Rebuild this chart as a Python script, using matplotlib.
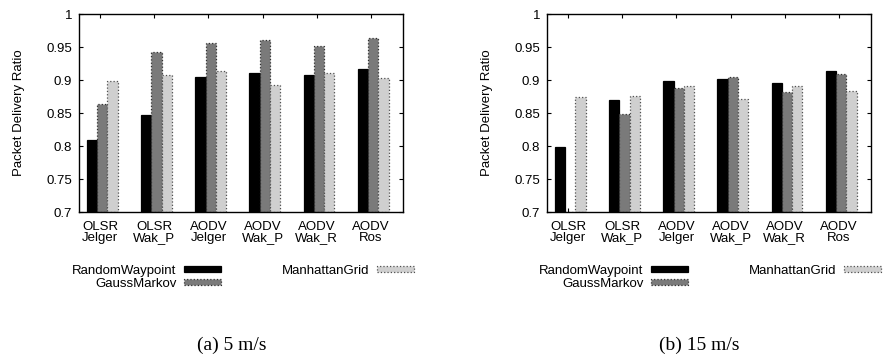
import numpy as np
import matplotlib
matplotlib.use('Agg')
import matplotlib.pyplot as plt

plt.rcParams['font.family'] = ['Liberation Sans', 'DejaVu Sans']

protocols = ['OLSR\nJelger', 'OLSR\nWak_P', 'AODV\nJelger', 'AODV\nWak_P', 'AODV\nWak_R', 'AODV\nRos']
series = ['RandomWaypoint', 'GaussMarkov', 'ManhattanGrid']

# 5 m/s
rw_5 = [0.809, 0.847, 0.905, 0.911, 0.907, 0.916]
gm_5 = [0.863, 0.942, 0.956, 0.961, 0.951, 0.963]
mg_5 = [0.899, 0.907, 0.913, 0.893, 0.910, 0.903]
# 15 m/s (GaussMarkov on OLSR Jelger falls below the axis)
rw_15 = [0.798, 0.870, 0.899, 0.901, 0.896, 0.914]
gm_15 = [0.680, 0.849, 0.888, 0.904, 0.882, 0.909]
mg_15 = [0.874, 0.876, 0.891, 0.871, 0.891, 0.883]

yticks = [0.7, 0.75, 0.8, 0.85, 0.9, 0.95, 1.0]
captions = ['(a) 5 m/s', '(b) 15 m/s']

colors = ['black', '#7a7a7a', '#cfcfcf']
edges = ['black', '#303030', '#505050']
styles = ['-', ':', ':']

fig = plt.figure(figsize=(8.85, 3.6), dpi=100)
W, H = 885, 360
# axes left edge, data, legend left edge, caption centre (pixels)
panels = [(79, rw_5, gm_5, mg_5, 72, 232), (547, rw_15, gm_15, mg_15, 539, 699)]

x = np.arange(len(protocols))
w = 0.19
for i, (left, rw, gm, mg, leg_x, cap_x) in enumerate(panels):
    ax = fig.add_axes([left / W, (360 - 212) / H, 324 / W, 198 / H])
    bars = []
    for k, vals in enumerate([rw, gm, mg]):
        b = ax.bar(x + (k - 1) * w + 0.04, np.array(vals) - 0.7, width=w, bottom=0.7,
                   color=colors[k], edgecolor=edges[k], linestyle=styles[k],
                   linewidth=0.9, label=series[k])
        bars.append(b)
    ax.set_xlim(-0.39, 5.59)
    ax.set_ylim(0.7, 1.0)
    ax.set_xticks(x)
    ax.set_xticklabels(protocols, fontsize=9.5, linespacing=0.9)
    ax.set_yticks(yticks)
    ax.set_yticklabels(['%g' % v for v in yticks], fontsize=9.5)
    ax.tick_params(direction='in', length=3, width=0.8, top=True, right=True)
    ax.tick_params(axis='x', pad=6.5)
    ax.tick_params(axis='y', pad=5)
    ax.set_axisbelow(True)
    for s in ax.spines.values():
        s.set_linewidth(1.0)
    ax.set_ylabel('Packet Delivery Ratio', fontsize=9.5)
    ax.yaxis.set_label_coords(-0.166, 0.5)

    fig.legend(handles=bars, labels=series, ncol=2, markerfirst=False,
               loc='upper left', bbox_to_anchor=(leg_x / W, (360 - 265) / H),
               frameon=False, fontsize=9.5, borderpad=0, borderaxespad=0,
               handlelength=2.8, handleheight=0.35, handletextpad=0.6,
               columnspacing=4.6, labelspacing=0.05)

    fig.text(cap_x / W, (360 - 345) / H, captions[i],
             ha='center', va='center', fontsize=14, family='Liberation Serif')

fig.savefig('out.png', dpi=100)
